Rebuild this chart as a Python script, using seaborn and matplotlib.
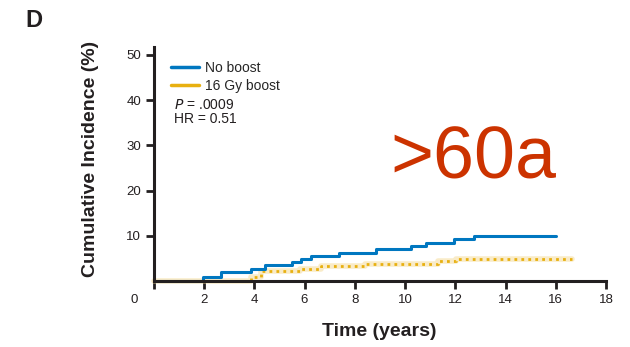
import numpy as np
import pandas as pd
import seaborn as sns
import matplotlib.pyplot as plt
import matplotlib.transforms as mtransforms
from matplotlib.lines import Line2D

# step curves (years, cumulative incidence %)
no_boost_t = [0, 1.96, 2.69, 3.89, 4.44, 5.52, 5.88, 6.24, 7.36, 8.85, 10.24, 10.85, 11.96, 12.74, 16.0]
no_boost_y = [0, 1.0, 2.1, 2.7, 3.5, 4.2, 4.8, 5.5, 6.2, 7.0, 7.7, 8.5, 9.2, 9.9, 9.9]
boost_t = [0, 3.89, 4.28, 5.84, 6.67, 8.39, 11.3, 12.03, 16.63]
boost_y = [0, 1.0, 2.2, 2.7, 3.3, 3.8, 4.4, 4.9, 4.9]

x_ticks = [0, 2, 4, 6, 8, 10, 12, 14, 16, 18]
y_ticks = [10, 20, 30, 40, 50]

blue = '#0077c0'
gold = '#e8b010'
ink = '#231f20'

sns.set_style('white')
plt.rcParams['font.family'] = ['Liberation Sans', 'DejaVu Sans']

df_nb = pd.DataFrame({'t': no_boost_t, 'y': no_boost_y})
df_b = pd.DataFrame({'t': boost_t, 'y': boost_y})

fig = plt.figure(figsize=(6.3, 3.47), dpi=100)
ax = fig.add_axes([0.244, 0.19, 0.718, 0.675])

# 16 Gy boost: faded dotted line
sns.lineplot(data=df_b, x='t', y='y', ax=ax, estimator=None, drawstyle='steps-post',
             color='#f5dc9c', lw=4, alpha=0.55, clip_on=False)
sns.lineplot(data=df_b, x='t', y='y', ax=ax, estimator=None, drawstyle='steps-post',
             color=gold, lw=2, ls=(0, (1, 1.5)), clip_on=False)
sns.lineplot(data=df_nb, x='t', y='y', ax=ax, estimator=None, drawstyle='steps-post',
             color=blue, lw=2.2, clip_on=False)

ax.set_xlim(0, 18)
ax.set_ylim(0, 51.8)
ax.set_xticks(x_ticks)
ax.set_yticks(y_ticks)
ax.tick_params(axis='both', direction='out', length=6, width=2, color=ink,
               labelsize=9.5, labelcolor=ink, pad=3, left=True, bottom=True)
for s in ['top', 'right']:
    ax.spines[s].set_visible(False)
for s in ['left', 'bottom']:
    ax.spines[s].set_color(ink)
    ax.spines[s].set_linewidth(2.2)

# the "0" label sits left of the origin
lbl0 = ax.get_xticklabels()[0]
lbl0.set_transform(lbl0.get_transform() + mtransforms.ScaledTranslation(-0.2, 0, fig.dpi_scale_trans))

ax.set_xlabel('Time (years)', fontsize=14, fontweight='bold', color=ink)
ax.set_ylabel('Cumulative Incidence (%)', fontsize=14, fontweight='bold', color=ink)
ax.xaxis.set_label_coords(0.498, -0.179)
ax.yaxis.set_label_coords(-0.12, 0.52)

handles = [Line2D([], [], color=blue, lw=2.5), Line2D([], [], color=gold, lw=2.5)]
ax.legend(handles, ['No boost', '16 Gy boost'], loc='upper left', bbox_to_anchor=(0.038, 0.94),
          frameon=False, fontsize=10, handlelength=2.0, handletextpad=0.45, labelspacing=0.3,
          borderaxespad=0, borderpad=0)
ax.text(0.045, 0.75, r'$\it{P}$ = .0009', transform=ax.transAxes, fontsize=10, color=ink, va='center')
ax.text(0.045, 0.69, 'HR = 0.51', transform=ax.transAxes, fontsize=10, color=ink, va='center')

fig.text(0.04, 0.94, 'D', fontsize=17, fontweight='bold', color=ink, va='center')
fig.text(0.619, 0.487, '>60a', fontsize=53, color='#cc3300', va='baseline')

fig.savefig('out.png', dpi=100)
